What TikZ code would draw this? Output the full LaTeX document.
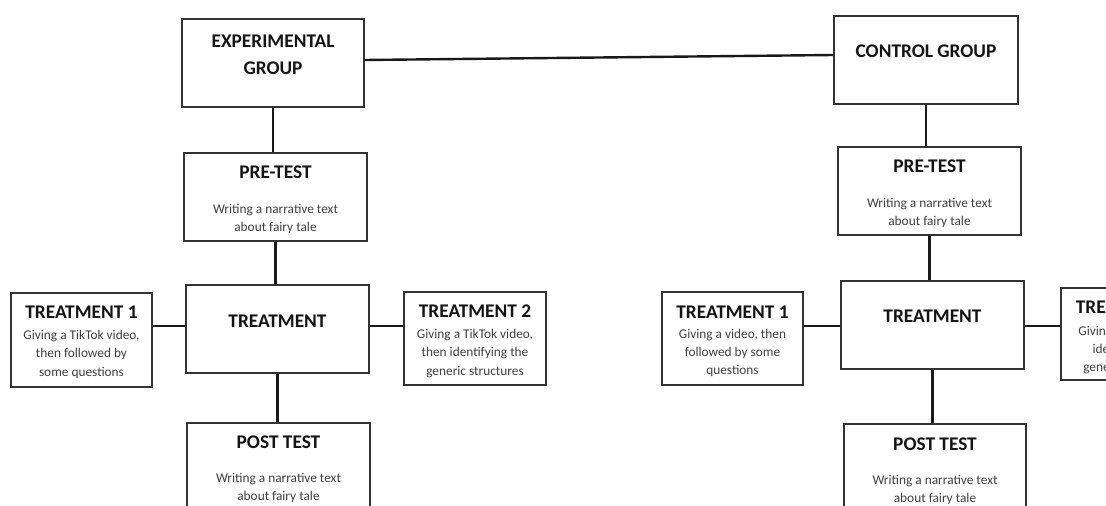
\documentclass[tikz,border=0pt]{standalone}
\usepackage{fontspec}
\setmainfont{Carlito}
\usetikzlibrary{calc}
\begin{document}
\begin{tikzpicture}[x=0.75pt,y=-0.75pt,
  box/.style n args={2}{draw=black!80, line width=1.2pt, rectangle, inner sep=0pt, minimum width=#1, minimum height=#2},
  link/.style={draw=black!90, line width=1.8pt},
  ttl/.style={font=\fontsize{14.5}{20}\selectfont\bfseries, anchor=base, inner sep=0pt, align=center, text=black!92},
  bod/.style={font=\fontsize{10}{13.6}\selectfont, anchor=base, inner sep=0pt, align=center, text=black!75}]
\clip (0,0) rectangle (1106,506);
\fill[white] (0,0) rectangle (1106,506);

% ---------- experimental side ----------
\node[box={136.5pt}{66pt}] (eg) at (273,63) {};
\node[box={137.25pt}{66pt}] (pre1) at (275.5,197) {};
\node[box={137.25pt}{66pt}] (tr1) at (277.5,329) {};
\node[box={137.25pt}{66pt}] (post1) at (278.5,467) {};
\node[box={105.75pt}{70.5pt}] (t1a) at (81.5,340) {};
\node[box={106.5pt}{69.75pt}] (t2a) at (475,338.5) {};

% (base anchor of a multi-line node = baseline of its last line)
\node[ttl] (egt) at ($(eg.north)+(0,56.2)$) {EXPERIMENTAL\\GROUP};
\node[ttl] (pre1t) at ($(pre1.north)+(0,26.5)$) {PRE-TEST};
\node[bod] (pre1b) at ($(pre1.north)+(0,79.1)$) {Writing a narrative text\\about fairy tale};
\node[ttl] (tr1t) at ($(tr1.north)+(0,43.5)$) {TREATMENT};
\node[ttl] (post1t) at ($(post1.north)+(0,26.5)$) {POST TEST};
\node[bod] (post1b) at ($(post1.north)+(0,78.6)$) {Writing a narrative text\\about fairy tale};
\node[ttl] (t1at) at ($(t1a.north)+(0,26.5)$) {TREATMENT 1};
\node[bod] (t1ab) at ($(t1a.north)+(0,83.8)$) {Giving a TikTok video,\\then followed by\\some questions};
\node[ttl] (t2at) at ($(t2a.north)+(0,26.5)$) {TREATMENT 2};
\node[bod] (t2ab) at ($(t2a.north)+(0,83.8)$) {Giving a TikTok video,\\then identifying the\\generic structures};

% ---------- control side ----------
\node[box={138pt}{66pt}] (cg) at (926,60) {};
\node[box={137.25pt}{66pt}] (pre2) at (929.5,191) {};
\node[box={137.25pt}{66pt}] (tr2) at (932.5,325) {};
\node[box={136.5pt}{66pt}] (post2) at (935,468) {};
\node[box={105.75pt}{69.75pt}] (t1b) at (732.5,338.5) {};
\node[box={106.5pt}{69pt}] (t2b) at (1132,334) {};

\node[ttl] (cgt) at ($(cg.north)+(0,42.5)$) {CONTROL GROUP};
\node[ttl] (pre2t) at ($(pre2.north)+(0,26.5)$) {PRE-TEST};
\node[bod] (pre2b) at ($(pre2.north)+(0,79.1)$) {Writing a narrative text\\about fairy tale};
\node[ttl] (tr2t) at ($(tr2.north)+(0,42.5)$) {TREATMENT};
\node[ttl] (post2t) at ($(post2.north)+(0,27.5)$) {POST TEST};
\node[bod] (post2b) at ($(post2.north)+(0,79.1)$) {Writing a narrative text\\about fairy tale};
\node[ttl] (t1bt) at ($(t1b.north)+(0,27.5)$) {TREATMENT 1};
\node[bod] (t1bb) at ($(t1b.north)+(0,83.3)$) {Giving a video, then\\followed by some\\questions};
\node[ttl] (t2bt) at ($(t2b.north)+(0,26.5)$) {TREATMENT 2};
\node[bod] (t2bb) at ($(t2b.north)+(0,84.3)$) {Giving a video, then\\identifying the\\generic structures};

% ---------- connectors ----------
\coordinate (rowa) at (0,326);
\draw[link] ([yshift=2.25pt]eg.east) -- ([yshift=3.75pt]cg.west);
\draw[link] (eg.south) -- (eg.south |- pre1.north);
\draw[link] (pre1.south) -- (pre1.south |- tr1.north);
\draw[link] (tr1.south) -- (tr1.south |- post1.north);
\draw[link] (t1a.east |- rowa) -- (tr1.west |- rowa);
\draw[link] (tr1.east |- rowa) -- (t2a.west |- rowa);

\draw[link] (cg.south) -- (cg.south |- pre2.north);
\draw[link] (pre2.south) -- (pre2.south |- tr2.north);
\draw[link] (tr2.south) -- (tr2.south |- post2.north);
\draw[link] (t1b.east |- rowa) -- (tr2.west |- rowa);
\draw[link] (tr2.east |- rowa) -- (t2b.west |- rowa);
\end{tikzpicture}
\end{document}
